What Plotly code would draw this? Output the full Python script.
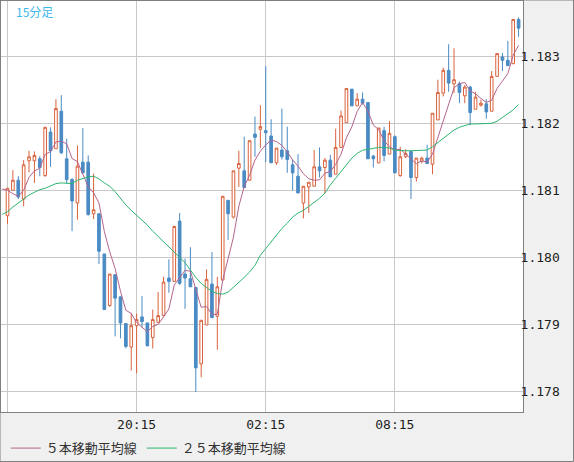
import plotly.graph_objects as go
import pandas as pd

# 15-minute bars, 14:15 .. 14:00 next day (96 bars)
times = [f"{(14 * 60 + 15 + 15 * i) // 60 % 24:02d}:{(15 + 15 * i) % 60:02d}" for i in range(96)]

opens = [1.18062, 1.18100, 1.18115, 1.18087, 1.18144, 1.18144, 1.18147, 1.18122, 1.18187, 1.18162,
         1.18218, 1.18147, 1.18116, 1.18081, 1.18142, 1.18142, 1.18065, 1.18065, 1.18005, 1.17928,
         1.17974, 1.17941, 1.17901, 1.17866, 1.17898, 1.17911, 1.17902, 1.17880, 1.17903, 1.17913,
         1.17969, 1.17964, 1.18054, 1.17975, 1.17968, 1.17955, 1.17841, 1.17899, 1.17960, 1.17912,
         1.17966, 1.18085, 1.18060, 1.18133, 1.18129, 1.18115, 1.18184, 1.18191, 1.18189, 1.18181,
         1.18141, 1.18160, 1.18159, 1.18138, 1.18121, 1.18081, 1.18105, 1.18106, 1.18135, 1.18134,
         1.18145, 1.18124, 1.18164, 1.18201, 1.18251, 1.18226, 1.18236, 1.18231, 1.18151, 1.18141,
         1.18189, 1.18154, 1.18180, 1.18122, 1.18150, 1.18158, 1.18119, 1.18143, 1.18148, 1.18139,
         1.18205, 1.18245, 1.18279, 1.18259, 1.18259, 1.18241, 1.18254, 1.18221, 1.18227, 1.18229,
         1.18218, 1.18270, 1.18299, 1.18294, 1.18289, 1.18355]
highs = [1.18103, 1.18130, 1.18121, 1.18145, 1.18159, 1.18158, 1.18151, 1.18194, 1.18194, 1.18236,
         1.18242, 1.18177, 1.18118, 1.18167, 1.18193, 1.18152, 1.18125, 1.18065, 1.18005, 1.17975,
         1.17974, 1.17941, 1.17901, 1.17916, 1.17916, 1.17942, 1.17902, 1.17922, 1.17948, 1.17971,
         1.17997, 1.18047, 1.18066, 1.17998, 1.18015, 1.17955, 1.17906, 1.17982, 1.18008, 1.17971,
         1.18091, 1.18085, 1.18129, 1.18159, 1.18180, 1.18174, 1.18210, 1.18227, 1.18285, 1.18206,
         1.18163, 1.18222, 1.18195, 1.18146, 1.18154, 1.18106, 1.18112, 1.18160, 1.18164, 1.18148,
         1.18153, 1.18192, 1.18219, 1.18252, 1.18251, 1.18245, 1.18246, 1.18231, 1.18153, 1.18193,
         1.18195, 1.18203, 1.18182, 1.18165, 1.18161, 1.18158, 1.18148, 1.18150, 1.18168, 1.18215,
         1.18265, 1.18283, 1.18318, 1.18312, 1.18262, 1.18257, 1.18256, 1.18247, 1.18235, 1.18236,
         1.18278, 1.18304, 1.18305, 1.18323, 1.18355, 1.18358]
lows = [1.18050, 1.18100, 1.18087, 1.18076, 1.18127, 1.18111, 1.18121, 1.18120, 1.18135, 1.18162,
        1.18154, 1.18110, 1.18039, 1.18056, 1.18126, 1.18062, 1.18057, 1.17990, 1.17922, 1.17926,
        1.17882, 1.17879, 1.17864, 1.17831, 1.17827, 1.17895, 1.17867, 1.17864, 1.17902, 1.17912,
        1.17947, 1.17964, 1.17959, 1.17923, 1.17956, 1.17799, 1.17821, 1.17899, 1.17909, 1.17862,
        1.17966, 1.18026, 1.18058, 1.18105, 1.18104, 1.18115, 1.18150, 1.18163, 1.18142, 1.18141,
        1.18138, 1.18146, 1.18126, 1.18100, 1.18096, 1.18058, 1.18066, 1.18106, 1.18119, 1.18095,
        1.18120, 1.18124, 1.18163, 1.18201, 1.18226, 1.18226, 1.18228, 1.18147, 1.18134, 1.18140,
        1.18143, 1.18154, 1.18126, 1.18120, 1.18148, 1.18087, 1.18113, 1.18140, 1.18139, 1.18124,
        1.18205, 1.18240, 1.18247, 1.18245, 1.18230, 1.18230, 1.18197, 1.18221, 1.18225, 1.18207,
        1.18218, 1.18270, 1.18278, 1.18286, 1.18288, 1.18329]
closes = [1.18103, 1.18115, 1.18090, 1.18138, 1.18150, 1.18152, 1.18134, 1.18194, 1.18159, 1.18222,
          1.18156, 1.18116, 1.18084, 1.18136, 1.18126, 1.18064, 1.18071, 1.18009, 1.17922, 1.17975,
          1.17939, 1.17902, 1.17867, 1.17898, 1.17907, 1.17904, 1.17868, 1.17907, 1.17913, 1.17963,
          1.17964, 1.18046, 1.17961, 1.17969, 1.17956, 1.17835, 1.17906, 1.17967, 1.17910, 1.17956,
          1.18091, 1.18065, 1.18129, 1.18140, 1.18104, 1.18174, 1.18179, 1.18195, 1.18186, 1.18141,
          1.18163, 1.18150, 1.18146, 1.18126, 1.18096, 1.18106, 1.18112, 1.18135, 1.18129, 1.18145,
          1.18120, 1.18164, 1.18211, 1.18252, 1.18226, 1.18236, 1.18230, 1.18147, 1.18147, 1.18193,
          1.18152, 1.18185, 1.18126, 1.18150, 1.18155, 1.18119, 1.18148, 1.18148, 1.18140, 1.18215,
          1.18246, 1.18279, 1.18260, 1.18265, 1.18246, 1.18254, 1.18216, 1.18239, 1.18230, 1.18217,
          1.18270, 1.18304, 1.18294, 1.18286, 1.18355, 1.18342]

# 5-bar average as seen for the bar just before the window and the first four bars
ma5_lead = [1.18102, 1.18100, 1.18095, 1.18091, 1.18100]

# 25-bar moving average (first value = bar just before the window)
ma25 = [1.18064,
        1.18068, 1.18075, 1.18081, 1.18088, 1.18093, 1.18097, 1.18101, 1.18103, 1.18107, 1.18110,
        1.18111, 1.18111, 1.18110, 1.18115, 1.18118, 1.18120, 1.18121, 1.18117, 1.18111, 1.18106,
        1.18098, 1.18088, 1.18078, 1.18070, 1.18063, 1.18055, 1.18048, 1.18039, 1.18031, 1.18023,
        1.18015, 1.18008, 1.18000, 1.17992, 1.17981, 1.17970, 1.17961, 1.17955, 1.17949, 1.17946,
        1.17945, 1.17948, 1.17955, 1.17962, 1.17970, 1.17978, 1.17988, 1.18003, 1.18013, 1.18023,
        1.18033, 1.18043, 1.18051, 1.18060, 1.18066, 1.18070, 1.18076, 1.18082, 1.18088, 1.18096,
        1.18108, 1.18118, 1.18128, 1.18138, 1.18148, 1.18155, 1.18160, 1.18161, 1.18163, 1.18164,
        1.18164, 1.18163, 1.18160, 1.18159, 1.18159, 1.18159, 1.18159, 1.18159, 1.18160, 1.18165,
        1.18171, 1.18177, 1.18184, 1.18190, 1.18194, 1.18197, 1.18199, 1.18199, 1.18199, 1.18199,
        1.18200, 1.18203, 1.18209, 1.18214, 1.18220, 1.18228]

tick_times = ["14:15", "20:15", "02:15", "08:15"]
tick_texts = ["", "20:15", "02:15", "08:15"]
price_ticks = [1.178, 1.179, 1.180, 1.181, 1.182, 1.183]

bar_x = list(range(len(times)))
ma_x = [-1] + bar_x

ma5 = pd.Series([None] + closes, dtype=float).rolling(5).mean()
ma5.iloc[:5] = ma5_lead

UP = "#d9623c"
DOWN = "#4a8bc4"
MA5_C = "#b4648e"
MA25_C = "#2db46e"
GRID = "#c8c8c8"
BORDER = "#808080"
MONO = "DejaVu Sans Mono"
CJK = "Noto Sans CJK JP"

PW, PH = 522, 411  # plot area size in px

fig = go.Figure()
fig.add_trace(go.Candlestick(
    x=bar_x, open=opens, high=highs, low=lows, close=closes, text=times,
    increasing=dict(line=dict(color=UP, width=1), fillcolor="#ffffff"),
    decreasing=dict(line=dict(color=DOWN, width=1), fillcolor=DOWN),
    whiskerwidth=0, showlegend=False, hoverinfo="skip",
))
fig.add_trace(go.Scatter(x=ma_x, y=ma5, mode="lines", name="５本移動平均線",
                         line=dict(color=MA5_C, width=1), legend="legend"))
fig.add_trace(go.Scatter(x=ma_x, y=ma25, mode="lines", name="２５本移動平均線",
                         line=dict(color=MA25_C, width=1), legend="legend2"))

legend_common = dict(
    orientation="h", xref="container", yref="container",
    y=0.03, xanchor="left", yanchor="middle",
    font=dict(family=CJK, size=13, color="#333333"),
    bgcolor="rgba(0,0,0,0)", itemwidth=30,
)

fig.update_layout(
    width=574, height=462,
    margin=dict(l=1, r=51, t=1, b=50),
    paper_bgcolor="#f0f0f0",
    plot_bgcolor="#ffffff",
    font=dict(family=MONO, size=13, color="#1e1e1e"),
    showlegend=True,
    legend=dict(x=0.01, **legend_common),
    legend2=dict(x=0.247, **legend_common),
    annotations=[dict(
        text="15分足", xref="paper", yref="paper",
        x=13 / PW, y=1, xanchor="left", yanchor="top", showarrow=False,
        font=dict(family=CJK, size=12, color="#3cb8ea"),
    )],
    shapes=[dict(type="rect", xref="paper", yref="paper",
                 x0=-1 / PW, x1=1 + 50.5 / PW, y0=-49.5 / PH, y1=1 + 1 / PH,
                 line=dict(color=BORDER, width=1), fillcolor="rgba(0,0,0,0)", layer="above")],
    hovermode=False,
)
fig.update_xaxes(
    range=[-1.21, 95.82],
    rangeslider=dict(visible=False),
    tickmode="array", tickvals=[times.index(t) for t in tick_times], ticktext=tick_texts,
    showgrid=True, gridcolor=GRID, gridwidth=1,
    showline=True, linecolor=BORDER, linewidth=1, mirror=True,
    ticks="", ticklen=0, zeroline=False,
    tickfont=dict(family=MONO, size=13, color="#1e1e1e"),
)
fig.update_yaxes(
    side="right", range=[1.177691, 1.183825],
    tickmode="array", tickvals=price_ticks, tickformat=".3f",
    showgrid=True, gridcolor=GRID, gridwidth=1,
    showline=True, linecolor=BORDER, linewidth=1, mirror=True,
    ticks="", ticklen=0, ticklabelstandoff=-6, zeroline=False,
    tickfont=dict(family=MONO, size=13, color="#1e1e1e"),
)

fig.write_html("out.html", config={"displayModeBar": False},
               post_script="document.body.style.margin='0';document.body.style.overflow='hidden';")
